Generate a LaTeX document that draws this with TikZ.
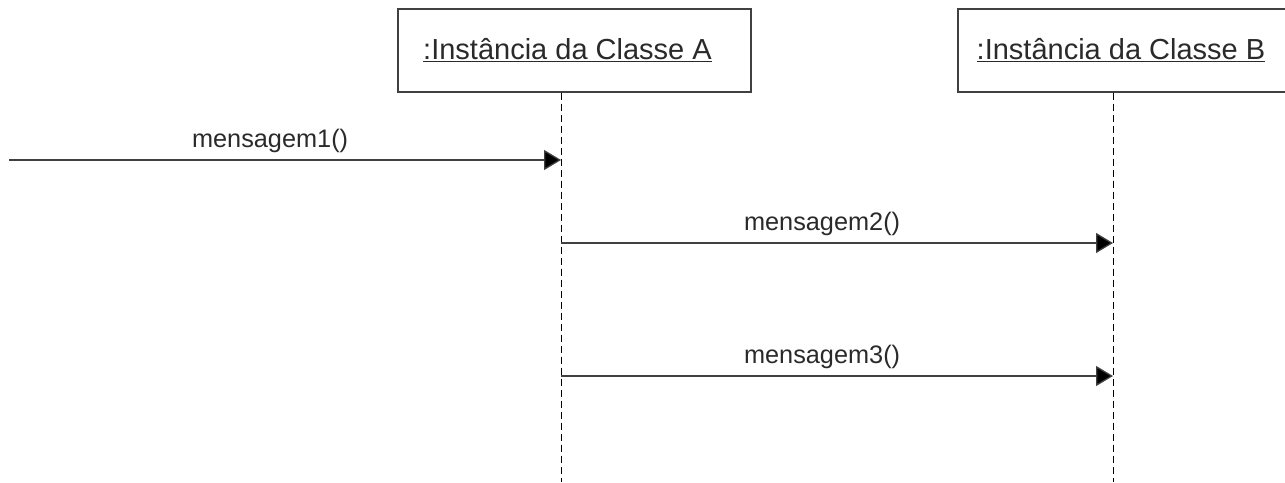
\documentclass[tikz,border=0pt]{standalone}
\usepackage{fontspec}
\setmainfont{Liberation Sans}
\usetikzlibrary{arrows.meta}

\definecolor{linegray}{HTML}{404040}
\definecolor{textgray}{HTML}{2A2A2A}

\tikzstyle{object} = [rectangle, draw=linegray, line width=1.4pt, minimum height=83pt, text=textgray, font=\fontsize{29}{33}\selectfont]
\tikzstyle{lifeline} = [draw=black, line width=1pt, dash pattern=on 7pt off 4pt]
\tikzstyle{msg} = [draw=linegray, line width=1.3pt, -{Triangle[length=17pt, width=20pt, fill=black]}]
\tikzstyle{msglabel} = [text=textgray, inner sep=0pt, font=\fontsize{25.3}{29}\selectfont]

\begin{document}
\begin{tikzpicture}[x=1pt, y=-1pt]
\useasboundingbox (0,0) rectangle (1285,482);
\node (objA) [object, minimum width=353pt] at (574.5,50.5) {\underline{:Instância da Classe A}\kern14pt};
\node (objB) [object, minimum width=346pt] at (1131,50.5) {\underline{:Instância da Classe B}\kern20pt};
\coordinate (lifeA) at (561,482);
\coordinate (lifeB) at (1113,482);
\draw [lifeline] (objA.south -| lifeA) -- (lifeA);
\draw [lifeline] (objB.south -| lifeB) -- (lifeB);
\coordinate (start) at (9,160);
\coordinate (m2) at (561,243);
\coordinate (m3) at (561,376);
\draw [msg] (start) -- node[msglabel, pos=0.473, above=7pt] {mensagem1()} (start -| lifeA);
\draw [msg] (m2) -- node[msglabel, pos=0.473, above=7pt] {mensagem2()} (m2 -| lifeB);
\draw [msg] (m3) -- node[msglabel, pos=0.473, above=7pt] {mensagem3()} (m3 -| lifeB);
\end{tikzpicture}
\end{document}
